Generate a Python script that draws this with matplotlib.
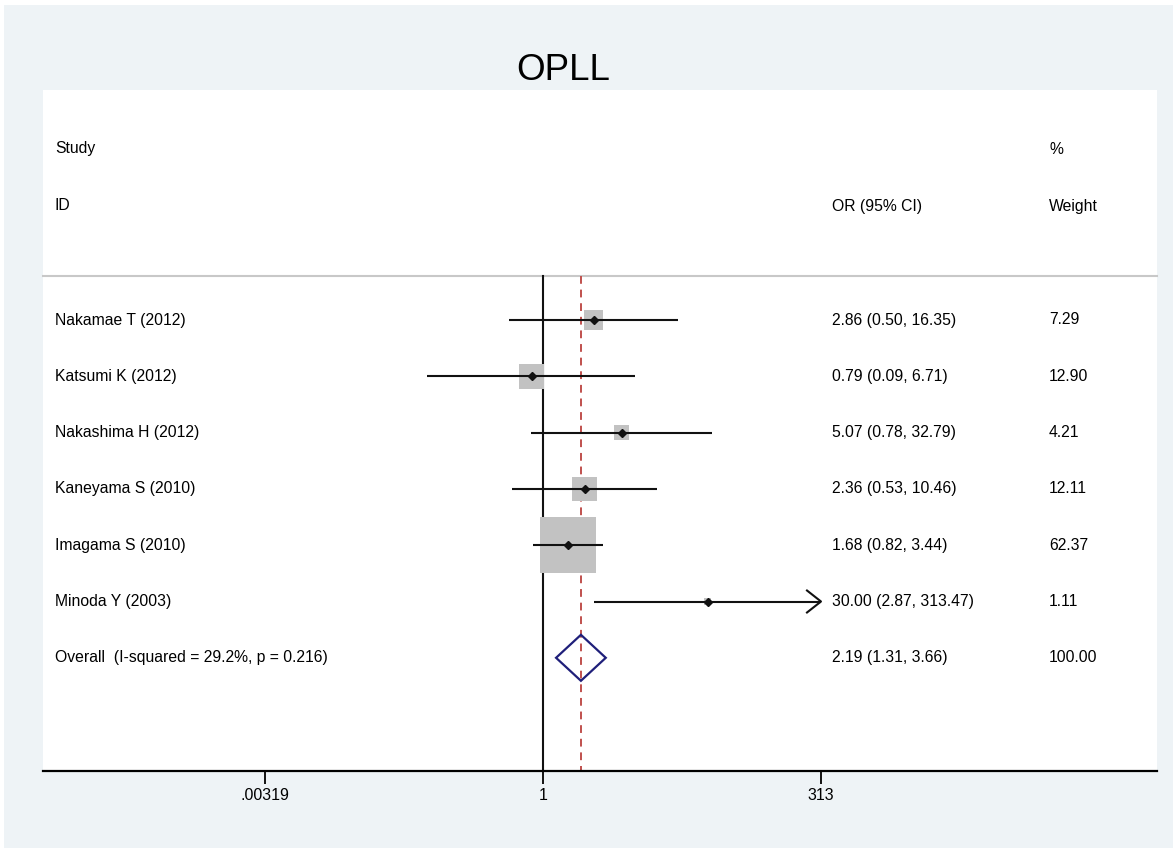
import numpy as np
import matplotlib
matplotlib.use("Agg")
import matplotlib.pyplot as plt
from matplotlib.patches import Rectangle, Polygon
import matplotlib.transforms as mtransforms

plt.rcParams['font.family'] = ['Liberation Sans', 'DejaVu Sans']

# ---- data ----
title = "OPLL"
studies = ["Nakamae T (2012)", "Katsumi K (2012)", "Nakashima H (2012)",
           "Kaneyama S (2010)", "Imagama S (2010)", "Minoda Y (2003)"]
or_est = [2.86, 0.79, 5.07, 2.36, 1.68, 30.00]
ci_low = [0.50, 0.09, 0.78, 0.53, 0.82, 2.87]
ci_high = [16.35, 6.71, 32.79, 10.46, 3.44, 313.47]
weights = [7.29, 12.90, 4.21, 12.11, 62.37, 1.11]
overall_label = "Overall  (I-squared = 29.2%, p = 0.216)"
overall_est = 2.19
overall_low = 1.31
overall_high = 3.66
overall_weight = 100.00
tick_values = [1 / 313, 1, 313]
tick_labels = [".00319", "1", "313"]

# ---- layout constants ----
W, H = 1173, 848
fig = plt.figure(figsize=(W / 100, H / 100), dpi=100, facecolor="#EEF3F6")
# thin white border at top / left like the reference
fig.patches.append(Rectangle((0, 1 - 5 / H), 1, 5 / H, transform=fig.transFigure,
                             facecolor="white", edgecolor="none", zorder=0))
fig.patches.append(Rectangle((0, 0), 4 / W, 1, transform=fig.transFigure,
                             facecolor="white", edgecolor="none", zorder=0))

left_px, right_px, top_px, bot_px = 43, 1157, 90, 771
ax = fig.add_axes([left_px / W, 1 - bot_px / H, (right_px - left_px) / W,
                   (bot_px - top_px) / H])
ax.set_facecolor("white")

px_per_ln = (821 - 543) / np.log(313)
row0_px, row_step = 320, 56.3
ax.set_xscale("log")
ax.set_xlim(np.exp((left_px - 543) / px_per_ln), np.exp((right_px - 543) / px_per_ln))
ax.set_ylim((bot_px - row0_px) / row_step, (top_px - row0_px) / row_step)

for s in ["top", "right", "left"]:
    ax.spines[s].set_visible(False)
ax.spines["bottom"].set_linewidth(1.6)
ax.set_yticks([])
ax.set_xticks(tick_values)
ax.set_xticklabels(tick_labels, fontsize=11.5)
ax.xaxis.set_minor_locator(matplotlib.ticker.NullLocator())
ax.tick_params(axis="x", length=9, width=1.3, pad=3, colors="#000000")

sep_y = (276 - row0_px) / row_step
ymin_line = ax.get_ylim()[0]
ax.plot(ax.get_xlim(), [sep_y, sep_y], color="#C8C8C8", lw=1.5, clip_on=False)
ax.plot([1, 1], [sep_y, ymin_line], color="#111111", lw=1.5)
ax.plot([overall_est, overall_est], [sep_y, ymin_line], color="#C0504D", lw=1.4,
        ls=(0, (4, 3)))

xmax_clip = tick_values[-1]
xmin_clip = tick_values[0]
big_side = 56.0
for i, (est, lo, hi, w) in enumerate(zip(or_est, ci_low, ci_high, weights)):
    y = i
    side = big_side * np.sqrt(w / max(weights))
    hw = side / 2 / px_per_ln
    hh = side / 2 / row_step
    ax.add_patch(Rectangle((est * np.exp(-hw), y - hh), est * np.exp(hw) - est * np.exp(-hw),
                           2 * hh, facecolor="#C2C2C2", edgecolor="none", zorder=2))
    lo_c = max(lo, xmin_clip)
    hi_c = min(hi, xmax_clip)
    ax.plot([lo_c, hi_c], [y, y], color="#111111", lw=1.5, zorder=3,
            solid_capstyle="butt")
    if hi > xmax_clip:
        back = xmax_clip * np.exp(-14 / px_per_ln)
        dy = 11 / row_step
        ax.plot([back, xmax_clip, back], [y - dy, y, y + dy], color="#111111",
                lw=1.5, zorder=3)
    ax.plot(est, y, marker="D", color="#111111", markersize=4.5, zorder=4)

# overall diamond
yo = len(studies)
dh = 23 / row_step
ax.add_patch(Polygon([(overall_low, yo), (overall_est, yo - dh), (overall_high, yo),
                      (overall_est, yo + dh)], closed=True, fill=False,
                     edgecolor="#1F1F7A", lw=1.6, zorder=4))

# text columns
trans = mtransforms.blended_transform_factory(ax.transAxes, ax.transData)
fx_label = (55 - left_px) / (right_px - left_px)
fx_or = (832 - left_px) / (right_px - left_px)
fx_w = (1049 - left_px) / (right_px - left_px)
fs = 11.3
tc = "#000000"
y_study = (149 - row0_px) / row_step
y_id = (206 - row0_px) / row_step
ax.text(fx_label, y_study, "Study", transform=trans, fontsize=fs, va="center", color=tc)
ax.text(fx_label, y_id, "ID", transform=trans, fontsize=fs, va="center", color=tc)
ax.text(fx_w, y_study, "%", transform=trans, fontsize=fs, va="center", color=tc)
ax.text(fx_or, y_id, "OR (95% CI)", transform=trans, fontsize=fs, va="center", color=tc)
ax.text(fx_w, y_id, "Weight", transform=trans, fontsize=fs, va="center", color=tc)

for i, name in enumerate(studies):
    ax.text(fx_label, i, name, transform=trans, fontsize=fs, va="center", color=tc)
    ax.text(fx_or, i, f"{or_est[i]:.2f} ({ci_low[i]:.2f}, {ci_high[i]:.2f})",
            transform=trans, fontsize=fs, va="center", color=tc)
    ax.text(fx_w, i, f"{weights[i]:.2f}", transform=trans, fontsize=fs, va="center", color=tc)

ax.text(fx_label, yo, overall_label, transform=trans, fontsize=fs, va="center", color=tc)
ax.text(fx_or, yo, f"{overall_est:.2f} ({overall_low:.2f}, {overall_high:.2f})",
        transform=trans, fontsize=fs, va="center", color=tc)
ax.text(fx_w, yo, f"{overall_weight:.2f}", transform=trans, fontsize=fs, va="center", color=tc)

fig.text(563 / W, 1 - 71 / H, title, ha="center", va="center", fontsize=26.5, color="#000000")

fig.savefig("out.png", dpi=100, facecolor=fig.get_facecolor())
